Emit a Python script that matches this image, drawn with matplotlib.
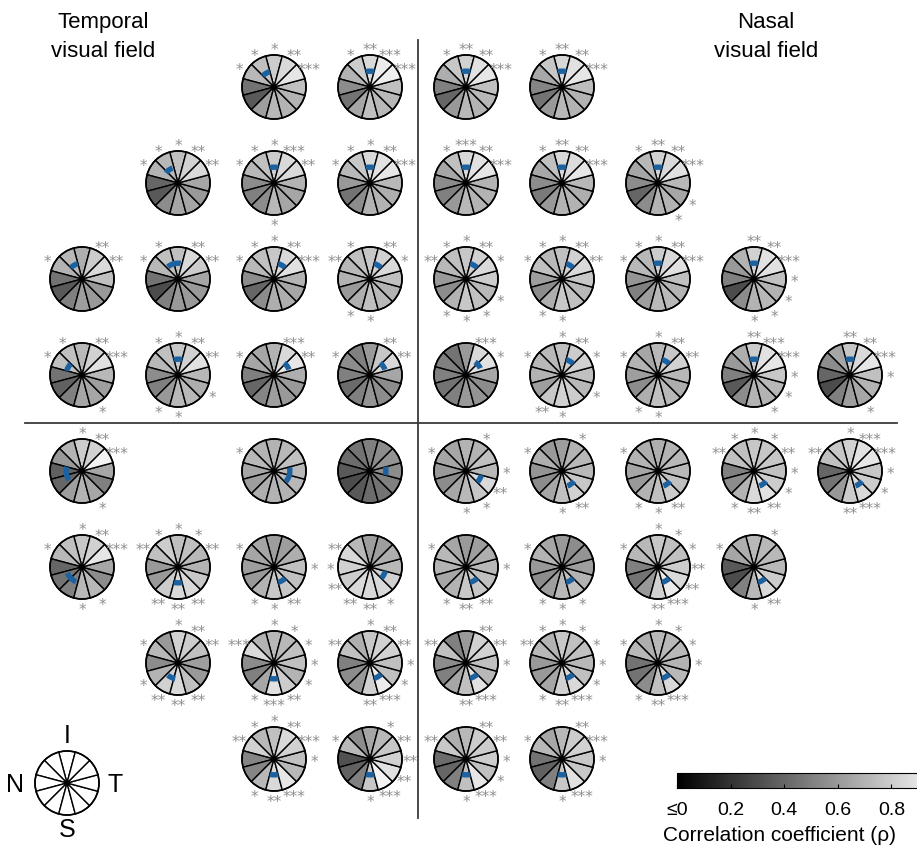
import numpy as np
import matplotlib
matplotlib.use("Agg")
import matplotlib.pyplot as plt
from matplotlib.patches import Wedge, Circle
from matplotlib.colors import Normalize
from matplotlib.colorbar import ColorbarBase

plt.rcParams['font.family'] = ['Liberation Sans', 'DejaVu Sans']

W, H = 917, 847

# ---- data ----
# 12 polar sectors, listed counter-clockwise starting at the top (inferior)
sector_angles = [90, 120, 150, 180, 210, 240, 270, 300, 330, 0, 30, 60]

# grid position of every receptive-field location (row, col)
grid_row = [0] * 4 + [1] * 6 + [2] * 8 + [3] * 9 + [4] * 8 + [5] * 8 + [6] * 6 + [7] * 4
grid_col = ([2, 3, 4, 5] + [1, 2, 3, 4, 5, 6] + list(range(8)) + list(range(9))
            + [0, 2, 3, 4, 5, 6, 7, 8] + list(range(8)) + [1, 2, 3, 4, 5, 6] + [2, 3, 4, 5])

# correlation coefficient per sector
rho = [
    # row 0
    [0.80, 0.75, 0.72, 0.45, 0.35, 0.62, 0.72, 0.70, 0.70, 0.75, 0.90, 0.85],
    [0.85, 0.80, 0.70, 0.55, 0.45, 0.65, 0.75, 0.72, 0.72, 0.75, 0.93, 0.92],
    [0.82, 0.78, 0.68, 0.50, 0.40, 0.60, 0.72, 0.70, 0.72, 0.75, 0.90, 0.88],
    [0.84, 0.78, 0.66, 0.52, 0.45, 0.60, 0.72, 0.70, 0.70, 0.74, 0.90, 0.88],
    # row 1
    [0.75, 0.72, 0.70, 0.40, 0.35, 0.55, 0.65, 0.65, 0.60, 0.65, 0.85, 0.82],
    [0.80, 0.75, 0.72, 0.55, 0.50, 0.55, 0.72, 0.65, 0.65, 0.70, 0.85, 0.85],
    [0.85, 0.78, 0.72, 0.60, 0.45, 0.55, 0.70, 0.70, 0.68, 0.72, 0.90, 0.88],
    [0.85, 0.75, 0.65, 0.55, 0.50, 0.60, 0.72, 0.70, 0.70, 0.70, 0.90, 0.88],
    [0.84, 0.75, 0.66, 0.55, 0.48, 0.60, 0.70, 0.70, 0.68, 0.72, 0.90, 0.86],
    [0.82, 0.72, 0.65, 0.55, 0.40, 0.55, 0.70, 0.70, 0.65, 0.72, 0.88, 0.85],
    # row 2
    [0.68, 0.72, 0.70, 0.45, 0.35, 0.50, 0.62, 0.60, 0.60, 0.75, 0.85, 0.80],
    [0.75, 0.75, 0.72, 0.45, 0.30, 0.50, 0.60, 0.60, 0.60, 0.65, 0.80, 0.85],
    [0.78, 0.75, 0.72, 0.55, 0.40, 0.55, 0.68, 0.68, 0.65, 0.70, 0.88, 0.85],
    [0.78, 0.75, 0.72, 0.70, 0.60, 0.68, 0.75, 0.72, 0.70, 0.75, 0.85, 0.82],
    [0.78, 0.75, 0.72, 0.60, 0.55, 0.70, 0.78, 0.75, 0.72, 0.80, 0.85, 0.82],
    [0.75, 0.72, 0.75, 0.62, 0.55, 0.68, 0.78, 0.75, 0.72, 0.78, 0.85, 0.82],
    [0.80, 0.72, 0.72, 0.58, 0.50, 0.62, 0.72, 0.72, 0.70, 0.75, 0.88, 0.85],
    [0.82, 0.70, 0.60, 0.50, 0.30, 0.55, 0.70, 0.72, 0.70, 0.75, 0.88, 0.88],
    # row 3
    [0.72, 0.75, 0.75, 0.45, 0.38, 0.50, 0.65, 0.65, 0.62, 0.72, 0.88, 0.82],
    [0.78, 0.75, 0.72, 0.55, 0.50, 0.60, 0.72, 0.72, 0.68, 0.72, 0.88, 0.82],
    [0.70, 0.65, 0.65, 0.50, 0.40, 0.52, 0.62, 0.60, 0.60, 0.68, 0.90, 0.85],
    [0.60, 0.50, 0.55, 0.50, 0.42, 0.50, 0.58, 0.55, 0.55, 0.65, 0.85, 0.78],
    [0.60, 0.45, 0.50, 0.50, 0.45, 0.50, 0.60, 0.58, 0.55, 0.65, 0.88, 0.85],
    [0.75, 0.72, 0.72, 0.70, 0.62, 0.78, 0.82, 0.80, 0.72, 0.75, 0.82, 0.80],
    [0.72, 0.65, 0.70, 0.62, 0.55, 0.68, 0.75, 0.72, 0.68, 0.72, 0.82, 0.78],
    [0.80, 0.68, 0.60, 0.50, 0.35, 0.55, 0.70, 0.70, 0.72, 0.78, 0.90, 0.88],
    [0.78, 0.65, 0.55, 0.40, 0.30, 0.50, 0.62, 0.65, 0.70, 0.75, 0.90, 0.85],
    # row 4
    [0.80, 0.70, 0.60, 0.38, 0.40, 0.62, 0.70, 0.65, 0.50, 0.65, 0.95, 0.82],
    [0.70, 0.70, 0.72, 0.65, 0.62, 0.68, 0.70, 0.70, 0.72, 0.72, 0.75, 0.72],
    [0.50, 0.45, 0.42, 0.35, 0.30, 0.35, 0.42, 0.45, 0.50, 0.55, 0.58, 0.55],
    [0.70, 0.65, 0.65, 0.60, 0.55, 0.65, 0.72, 0.78, 0.85, 0.72, 0.75, 0.70],
    [0.62, 0.60, 0.68, 0.58, 0.55, 0.65, 0.75, 0.82, 0.78, 0.72, 0.72, 0.70],
    [0.68, 0.68, 0.70, 0.65, 0.60, 0.70, 0.75, 0.80, 0.75, 0.72, 0.72, 0.70],
    [0.78, 0.75, 0.75, 0.50, 0.55, 0.70, 0.85, 0.88, 0.80, 0.75, 0.78, 0.78],
    [0.82, 0.78, 0.75, 0.40, 0.45, 0.60, 0.80, 0.85, 0.80, 0.78, 0.90, 0.88],
    # row 5
    [0.78, 0.75, 0.72, 0.40, 0.45, 0.50, 0.72, 0.72, 0.55, 0.65, 0.90, 0.82],
    [0.75, 0.80, 0.75, 0.60, 0.60, 0.80, 0.85, 0.85, 0.78, 0.70, 0.72, 0.75],
    [0.62, 0.65, 0.65, 0.62, 0.60, 0.70, 0.78, 0.78, 0.75, 0.75, 0.68, 0.62],
    [0.62, 0.72, 0.85, 0.82, 0.80, 0.85, 0.85, 0.85, 0.82, 0.72, 0.68, 0.62],
    [0.60, 0.65, 0.72, 0.70, 0.65, 0.70, 0.78, 0.78, 0.75, 0.72, 0.68, 0.62],
    [0.60, 0.65, 0.70, 0.60, 0.55, 0.62, 0.72, 0.75, 0.70, 0.62, 0.58, 0.55],
    [0.78, 0.72, 0.72, 0.50, 0.45, 0.60, 0.82, 0.92, 0.85, 0.80, 0.75, 0.75],
    [0.72, 0.68, 0.65, 0.35, 0.30, 0.50, 0.72, 0.85, 0.80, 0.72, 0.72, 0.72],
    # row 6
    [0.82, 0.60, 0.72, 0.55, 0.70, 0.82, 0.85, 0.75, 0.60, 0.62, 0.75, 0.80],
    [0.72, 0.70, 0.85, 0.55, 0.50, 0.65, 0.88, 0.80, 0.70, 0.75, 0.75, 0.72],
    [0.78, 0.68, 0.75, 0.50, 0.55, 0.60, 0.82, 0.92, 0.75, 0.75, 0.82, 0.82],
    [0.60, 0.50, 0.75, 0.55, 0.50, 0.65, 0.75, 0.88, 0.72, 0.75, 0.82, 0.82],
    [0.78, 0.70, 0.72, 0.60, 0.60, 0.65, 0.82, 0.85, 0.75, 0.72, 0.75, 0.75],
    [0.72, 0.68, 0.72, 0.45, 0.45, 0.55, 0.75, 0.85, 0.72, 0.70, 0.72, 0.72],
    # row 7
    [0.75, 0.72, 0.82, 0.52, 0.52, 0.72, 0.85, 0.90, 0.72, 0.75, 0.82, 0.85],
    [0.65, 0.55, 0.72, 0.32, 0.38, 0.50, 0.78, 0.95, 0.88, 0.82, 0.78, 0.72],
    [0.72, 0.68, 0.78, 0.42, 0.40, 0.50, 0.75, 0.90, 0.75, 0.80, 0.80, 0.80],
    [0.72, 0.65, 0.72, 0.45, 0.38, 0.50, 0.78, 0.88, 0.78, 0.78, 0.82, 0.80],
]

# significance stars per sector: {sector angle: number of stars}
stars = [
    {150: 1, 120: 1, 90: 1, 60: 2, 30: 3},
    {120: 1, 90: 2, 60: 3, 30: 3},
    {120: 1, 90: 2, 60: 2, 30: 3},
    {120: 1, 90: 2, 60: 2, 30: 3},
    {150: 1, 120: 1, 90: 1, 60: 2, 30: 2},
    {150: 1, 120: 1, 90: 1, 60: 3, 30: 2, 270: 1},
    {150: 1, 120: 1, 90: 1, 60: 2, 30: 3},
    {120: 1, 90: 3, 60: 2, 30: 3},
    {120: 1, 90: 2, 60: 2, 30: 3},
    {120: 1, 90: 2, 60: 2, 30: 3, 330: 1, 300: 1},
    {150: 1, 60: 2, 30: 2},
    {150: 1, 120: 1, 60: 2, 30: 2},
    {150: 1, 120: 1, 90: 1, 60: 2, 30: 3},
    {150: 2, 120: 1, 60: 2, 30: 1, 240: 1, 270: 1},
    {150: 2, 120: 1, 90: 1, 60: 2, 30: 1, 330: 1, 240: 1, 270: 1, 300: 1},
    {150: 1, 120: 1, 90: 1, 60: 2, 30: 2, 240: 1, 270: 1},
    {150: 1, 120: 1, 90: 1, 60: 2, 30: 3},
    {90: 2, 60: 2, 30: 3, 0: 1, 330: 1, 300: 1, 270: 1},
    {150: 1, 120: 1, 60: 2, 30: 3, 300: 1},
    {120: 1, 90: 1, 60: 2, 30: 2, 330: 1, 240: 1, 270: 1},
    {150: 1, 60: 3, 30: 2},
    {150: 1, 60: 2, 30: 2},
    {60: 3, 30: 1},
    {150: 1, 90: 1, 60: 2, 30: 1, 330: 1, 240: 2, 270: 1},
    {150: 1, 90: 1, 60: 2, 30: 2, 240: 1, 270: 1},
    {90: 2, 60: 3, 30: 3, 0: 1, 330: 1, 300: 1},
    {90: 2, 60: 2, 30: 3, 0: 1, 300: 1},
    {90: 1, 60: 2, 30: 3, 300: 1},
    {150: 1},
    {},
    {150: 1, 60: 1, 0: 1, 330: 2, 300: 1, 270: 1},
    {150: 1, 60: 1, 300: 2, 270: 1},
    {150: 1, 240: 1, 270: 1, 300: 2},
    {150: 2, 120: 1, 90: 1, 60: 1, 30: 2, 0: 1, 330: 1, 240: 1, 270: 2, 300: 2},
    {150: 2, 90: 1, 60: 3, 30: 3, 0: 1, 330: 1, 270: 2, 300: 3},
    {150: 1, 90: 1, 60: 2, 30: 3, 270: 1, 300: 1},
    {150: 2, 120: 1, 90: 1, 60: 1, 30: 2, 240: 2, 270: 2, 300: 2},
    {150: 1, 0: 1, 240: 1, 270: 1, 300: 2},
    {150: 2, 180: 1, 210: 2, 240: 2, 270: 2, 300: 1},
    {150: 1, 0: 1, 240: 1, 270: 2, 300: 2},
    {150: 1, 240: 1, 270: 1, 300: 1},
    {150: 1, 90: 1, 60: 1, 30: 1, 0: 2, 330: 2, 270: 2, 300: 3},
    {150: 1, 60: 1, 270: 1, 300: 2},
    {150: 1, 90: 1, 60: 2, 30: 2, 210: 1, 240: 2, 270: 2, 300: 2},
    {150: 3, 90: 1, 60: 1, 30: 1, 0: 1, 330: 1, 240: 1, 270: 3, 300: 2},
    {150: 2, 90: 1, 60: 2, 30: 2, 0: 1, 330: 1, 270: 2, 300: 3},
    {150: 2, 60: 2, 30: 2, 0: 1, 270: 2, 300: 3},
    {150: 2, 120: 1, 90: 1, 60: 1, 30: 1, 0: 1, 330: 1, 240: 1, 270: 2, 300: 3},
    {150: 1, 90: 1, 60: 1, 30: 1, 0: 1, 240: 1, 270: 2, 300: 3},
    {150: 2, 120: 1, 90: 1, 60: 2, 30: 3, 0: 1, 240: 1, 270: 2, 300: 3},
    {150: 1, 60: 1, 30: 2, 0: 2, 330: 2, 270: 1, 300: 3},
    {150: 2, 60: 2, 30: 2, 0: 1, 330: 1, 270: 1, 300: 3},
    {150: 1, 60: 2, 30: 3, 0: 1, 270: 1, 300: 3},
]

# preferred direction (deg) and angular spread (deg) of the best sector
pref_angle = [120, 90, 90, 90,
              125, 90, 90, 90, 90, 90,
              120, 105, 60, 60, 60, 60, 90, 90,
              150, 90, 35, 35, 40, 60, 60, 90, 90,
              190, 345, 0, 330, 305, 305, 305, 305,
              225, 270, 300, 330, 300, 300, 300, 300,
              245, 270, 300, 300, 300, 300,
              270, 270, 270, 270]
pref_width = [30] * 4 + [30] * 6 + [30, 50] + [30] * 6 + [30] * 9 \
    + [50, 55] + [30] * 6 + [45] + [30] * 7 + [30] * 6 + [30] * 4

# colour-bar tick values and labels
cbar_ticks = [0, 0.2, 0.4, 0.6, 0.8]
cbar_labels = ['≤0', '0.2', '0.4', '0.6', '0.8']

# ---- layout ----
R = 32
x0, y0, step = 82, 87, 96
star_color = '#8f8f8f'
blue = '#1d62a0'
cmap = plt.cm.gray
norm = Normalize(0, 1)


def draw_rose(ax, cx, cy, values=None, lw=1.0):
    for k, a in enumerate(sector_angles):
        fc = 'white' if values is None else cmap(norm(values[k]))
        # y axis points down, so visual angles are negated
        ax.add_patch(Wedge((cx, cy), R, -(a + 15), -(a - 15), fc=fc,
                           ec='black', lw=lw, zorder=2))
    ax.add_patch(Circle((cx, cy), R, fc='none', ec='black', lw=lw + 0.2, zorder=3))
    ax.add_patch(Circle((cx, cy), 2.6, fc='black', ec='none', zorder=4))


fig = plt.figure(figsize=(W / 100, H / 100), dpi=100)
ax = fig.add_axes([0, 0, 1, 1])
ax.set_xlim(0, W)
ax.set_ylim(H, 0)
ax.axis('off')

for i in range(len(rho)):
    cx = x0 + step * grid_col[i]
    cy = y0 + step * grid_row[i]
    draw_rose(ax, cx, cy, rho[i])

    a, w = pref_angle[i], pref_width[i]
    ax.add_patch(Wedge((cx, cy), 0.58 * R, -(a + w / 2), -(a - w / 2),
                       width=0.17 * R, fc=blue, ec='none', zorder=5))

    for ang, n in stars[i].items():
        t = np.deg2rad(ang)
        sx = cx + 1.25 * R * np.cos(t)
        sy = cy - 1.25 * R * np.sin(t)
        ax.text(sx, sy + 8.5, '*' * n, ha='center', va='baseline', fontsize=11,
                color=star_color, family='DejaVu Sans', zorder=6)

# quadrant dividers half-way between the grid columns / rows
xm = x0 + step * 3.5
ym = y0 + step * 3.5
ax.plot([xm, xm], [40, 818], color='#3a3a3a', lw=1.3, zorder=1)
ax.plot([25, 897], [ym, ym], color='#3a3a3a', lw=1.3, zorder=1)

ax.text(103, 37, 'Temporal\nvisual field', ha='center', va='center',
        fontsize=16, linespacing=1.45)
ax.text(766, 37, 'Nasal\nvisual field', ha='center', va='center',
        fontsize=16, linespacing=1.45)

# orientation key
kx, ky = 67, 783
draw_rose(ax, kx, ky)
ax.text(kx, ky - 47, 'I', ha='center', va='center', fontsize=18)
ax.text(kx - 52, ky + 2, 'N', ha='center', va='center', fontsize=18)
ax.text(kx + 48, ky + 2, 'T', ha='center', va='center', fontsize=18)
ax.text(kx, ky + 47, 'S', ha='center', va='center', fontsize=18)

# colour bar (runs off the right edge)
cax = fig.add_axes([677 / W, 1 - 788 / H, (945 - 677) / W, 15 / H])
cb = ColorbarBase(cax, cmap=cmap, norm=norm, orientation='horizontal',
                  ticks=cbar_ticks)
cb.set_ticklabels(cbar_labels)
cb.outline.set_linewidth(0.8)
cax.tick_params(direction='in', length=3, labelsize=14, pad=10, width=0.8)
fig.text(663 / W, 1 - 835 / H, 'Correlation coefficient (ρ)', ha='left',
         va='center', fontsize=15)

fig.savefig('out.png', dpi=100)
